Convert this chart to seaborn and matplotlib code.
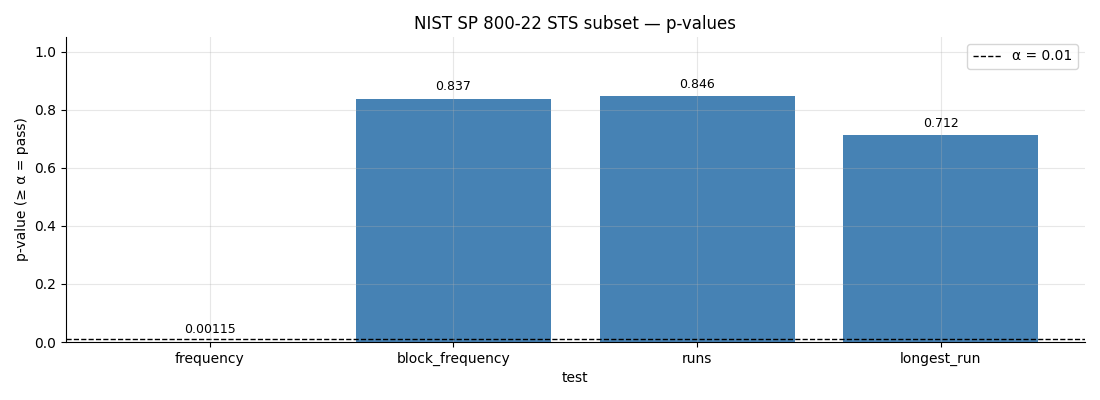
import matplotlib
matplotlib.use("Agg")
import matplotlib.pyplot as plt
import seaborn as sns
import pandas as pd

tests = ["frequency", "block_frequency", "runs", "longest_run"]
p_values = [0.00115, 0.837, 0.846, 0.712]
labels = ["0.00115", "0.837", "0.846", "0.712"]
alpha = 0.01

plt.rcParams['font.family'] = ['DejaVu Sans']

df = pd.DataFrame({"test": tests, "p": p_values})
colors = ["crimson" if p < alpha else "steelblue" for p in p_values]

fig, ax = plt.subplots(figsize=(11, 4), dpi=100)
fig.subplots_adjust(left=0.06, right=0.986, top=0.9075, bottom=0.145)
sns.barplot(data=df, x="test", y="p", hue="test", palette=colors, legend=False,
            ax=ax, width=0.8, saturation=1)
ax.axhline(alpha, color="black", linestyle="--", linewidth=1, label="α = 0.01")
for patch, lab in zip(ax.patches, labels):
    ax.annotate(lab, (patch.get_x() + patch.get_width() / 2, patch.get_height()),
                xytext=(0, 4), textcoords="offset points", ha="center", va="bottom",
                fontsize=9)
ax.set_xlim(-0.59, 3.59)
ax.set_ylim(0, 1.05)
ax.grid(True, color="#b0b0b0", alpha=0.3, linewidth=0.8)
ax.set_axisbelow(False)
ax.set_xlabel("test")
ax.set_ylabel("p-value (≥ α = pass)")
ax.set_title("NIST SP 800-22 STS subset — p-values", fontsize=12)
ax.legend(loc="upper right")
sns.despine(ax=ax)
fig.savefig("out.png", dpi=100)
